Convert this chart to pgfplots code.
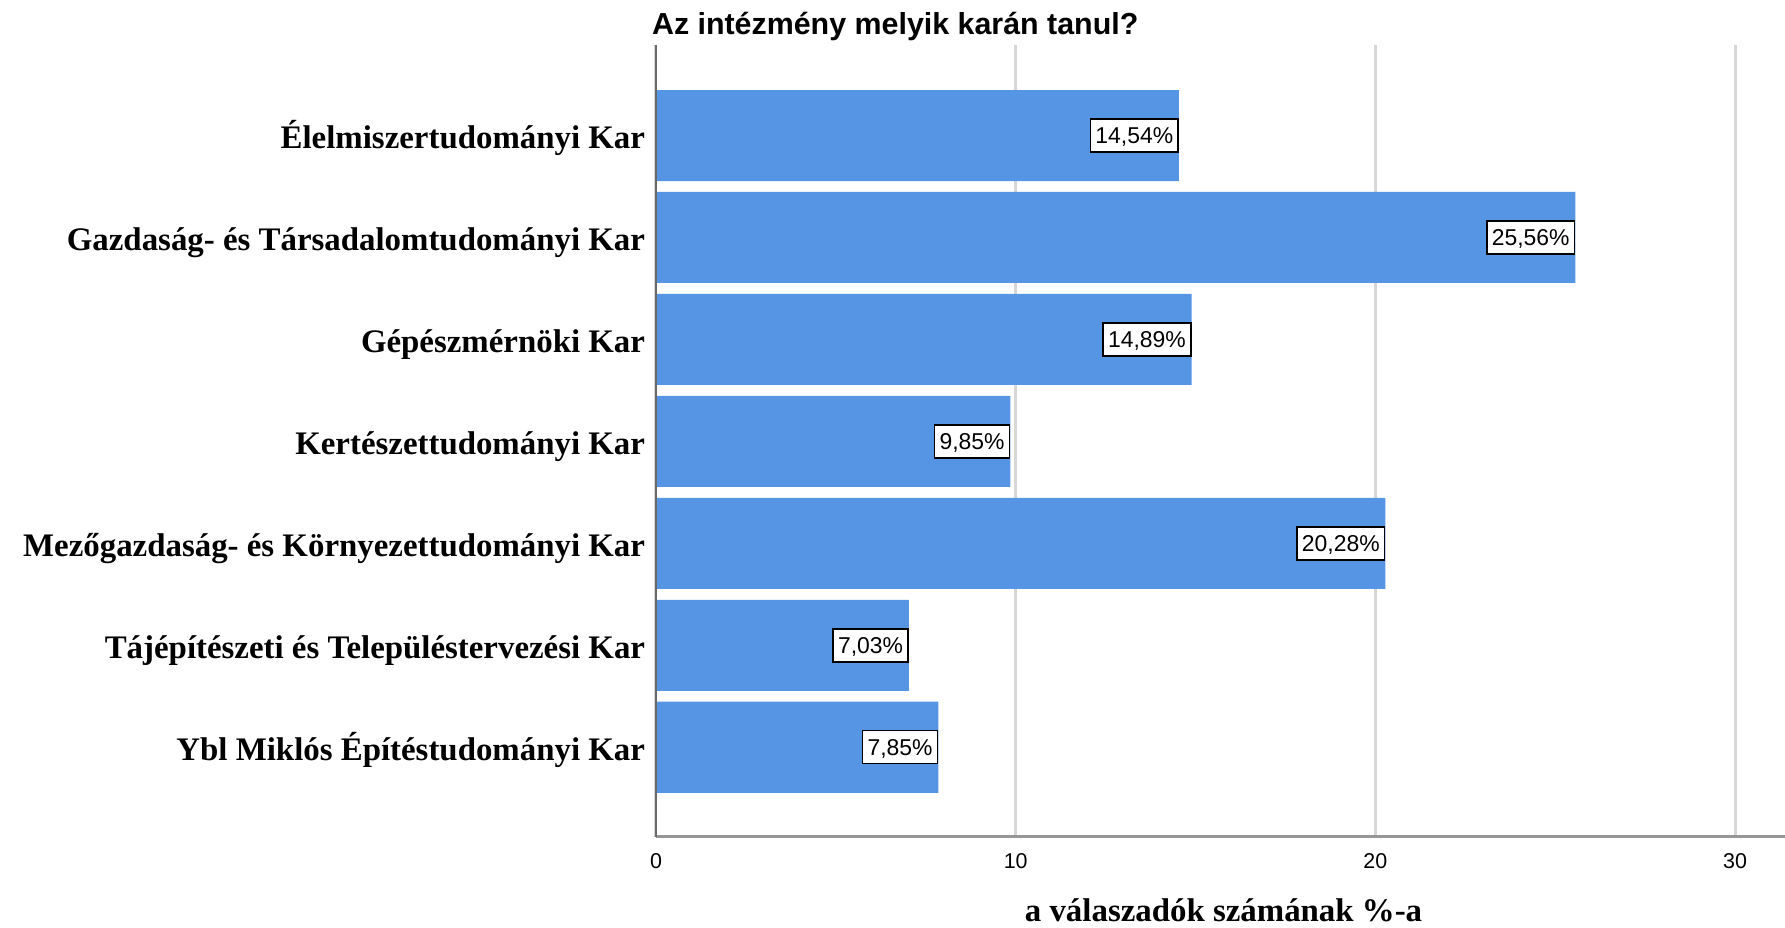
\documentclass[border=0pt]{standalone}
\usepackage{fontspec}
\setmainfont{Liberation Serif}
\newfontfamily\sansf{Liberation Sans}
\usepackage{pgfplots}
\pgfplotsset{compat=1.18}
\usepackage{pgfplotstable}

\definecolor{barblue}{RGB}{85,149,227}
\definecolor{gridgray}{RGB}{215,215,215}
\definecolor{axleft}{RGB}{105,105,105}
\definecolor{axbottom}{RGB}{150,150,150}

% y position (6 = top), percentage
\pgfplotstableread{
y val
6 14.54
5 25.56
4 14.89
3 9.85
2 20.28
1 7.03
0 7.85
}\datatable

\begin{document}
\begin{tikzpicture}
\path[use as bounding box] (-262.4bp,-36.5bp) rectangle (451.6bp,334.7bp);
\begin{axis}[
  at={(0,0)}, anchor=south west,
  scale only axis, width=451.6bp, height=316.7bp,
  xbar, bar width=0.893,
  xmin=0, xmax=31.39, ymin=-0.878, ymax=6.888,
  axis line style={draw=none},
  xtick={0,10,20,30},
  ytick={0,1,2,3,4,5,6},
  yticklabels={Ybl Miklós Építéstudományi Kar,
               Tájépítészeti és Településtervezési Kar,
               Mezőgazdaság- és Környezettudományi Kar,
               Kertészettudományi Kar,
               Gépészmérnöki Kar,
               Gazdaság- és Társadalomtudományi Kar,
               Élelmiszertudományi Kar},
  major tick length=0pt,
  xmajorgrids, ymajorgrids=false,
  grid style={gridgray, line width=1.2bp},
  /pgf/number format/assume math mode=true,
  xticklabel style={font=\sansf\fontsize{8.6}{10}\selectfont, anchor=base, yshift=-12.5bp, inner sep=0pt},
  yticklabel style={font=\bfseries\fontsize{13.2}{15}\selectfont, anchor=base east, inner sep=0pt, xshift=-4.2bp, yshift=-5.3bp},
  xlabel={a válaszadók számának \%-a},
  xlabel style={at={(axis description cs:0.5027,0)}, anchor=base, yshift=-34bp, inner sep=0pt, font=\bfseries\fontsize{13.2}{15}\selectfont},
  point meta=x,
  nodes near coords={\pgfmathprintnumber[fixed,fixed zerofill,precision=2,use comma,assume math mode=true]{\pgfplotspointmeta}\%},
  nodes near coords align={anchor=east},
  every node near coord/.append style={anchor=east, fill=white, draw=black, line width=0.6bp,
     inner xsep=2bp, inner ysep=3.4bp, text height=6.4bp, text depth=0bp,
     font=\sansf\fontsize{9.2}{10}\selectfont, text=black},
  clip=false,
]
\addplot[draw=none, fill=barblue] table[x=val, y=y] {\datatable};
\draw[axbottom, line width=1.2bp] (axis description cs:0,0) -- (axis description cs:1,0);
\draw[axleft, line width=0.8bp] (axis description cs:0,0) -- (axis description cs:0,1);
\node[anchor=base, inner sep=0pt, yshift=4bp, font=\sansf\bfseries\fontsize{12.2}{14}\selectfont]
  at (axis description cs:0.2119,1) {Az intézmény melyik karán tanul?};
\end{axis}
\end{tikzpicture}
\end{document}
